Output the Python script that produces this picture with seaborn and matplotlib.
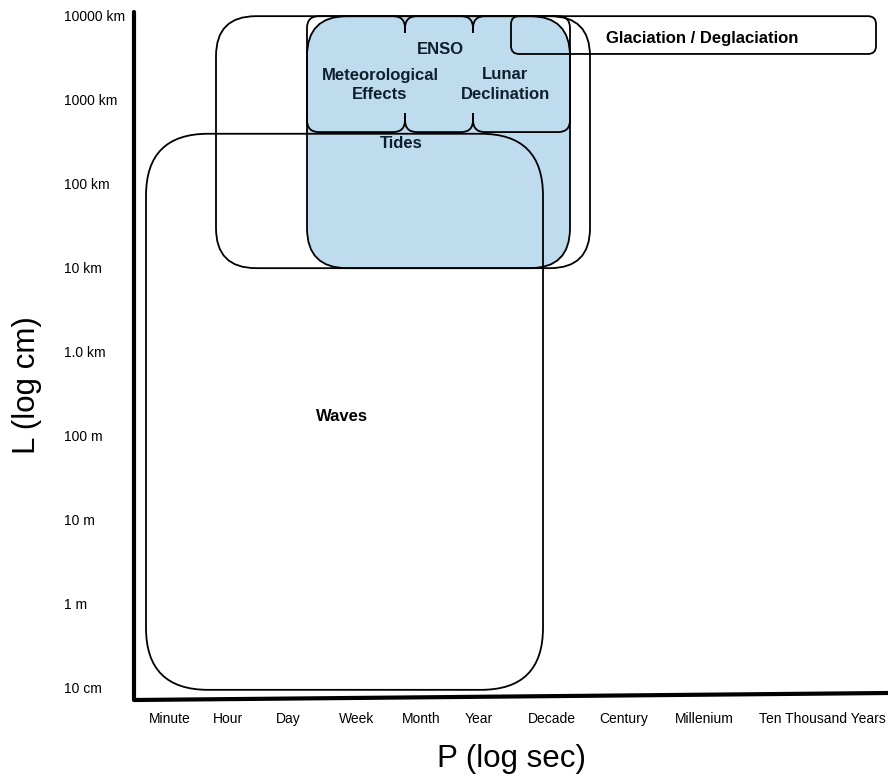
import matplotlib
matplotlib.use("Agg")
import matplotlib.pyplot as plt
from matplotlib.patches import FancyBboxPatch, Rectangle
import seaborn as sns
import pandas as pd

sns.set_theme(style="white")
plt.rcParams['font.family'] = ['Liberation Sans', 'DejaVu Sans']

# ---- axis tick data ----
# y: log10 of length in cm
length_labels = ["10 cm", "1 m", "10 m", "100 m", "1.0 km", "10 km", "100 km", "1000 km", "10000 km"]
length_values = [1, 2, 3, 4, 5, 6, 7, 8, 9]
# x: period scale position (arbitrary linear units)
period_labels = ["Minute", "Hour", "Day", "Week", "Month", "Year", "Decade", "Century",
                 "Millenium", "Ten Thousand Years"]
period_positions = [170, 228, 288, 357, 421, 479, 552, 624, 704, 822]

# ---- phenomena regions (x0, x1 in period units; y0, y1 in log cm) ----
region_names = ["Waves", "Tides", "Shelf", "Meteorological\nEffects", "ENSO",
                "Lunar\nDeclination", "Glaciation / Deglaciation"]
region_x0 = [146, 216, 307, 307, 405, 473, 511]
region_x1 = [543, 590, 570, 405, 473, 570, 876]
region_y0 = [0.99, 6.01, 6.01, 7.63, 7.63, 7.63, 8.56]
region_y1 = [7.61, 9.01, 9.01, 9.01, 9.01, 9.01, 9.01]
region_fill = ["none", "none", "#bfdbee", "none", "none", "none", "none"]
region_round = [62, 40, 40, 12, 12, 12, 8]

# shared borders between the upper small regions (drawn as brace-like joins)
join_x = [405, 473]

# label anchor points for each phenomenon
label_text = ["Waves", "Tides", "ENSO", "Meteorological\nEffects", "Lunar\nDeclination",
              "Glaciation / Deglaciation"]
label_x = [342, 401, 440, 380, 505, 702]
label_y = [4.24, 7.50, 8.61, 8.19, 8.20, 8.74]
label_color = ["black", "#0d1f2d", "#0d1f2d", "#0d1f2d", "#0d1f2d", "black"]

PX_PER_Y = 84.0  # pixel height of one decade of length


def py(p):
    return 1 + (689 - p) / PX_PER_Y


fig = plt.figure(figsize=(8.88, 7.77), dpi=100)
ax = fig.add_axes([0, 0, 1, 1])
ax.set_xlim(0, 888)
ax.set_ylim(py(777), py(0))
ax.axis("off")

order = [2, 1, 0, 3, 4, 5, 6]
for i in order:
    p = FancyBboxPatch((region_x0[i], region_y0[i]),
                       region_x1[i] - region_x0[i], region_y1[i] - region_y0[i],
                       boxstyle=f"round,pad=0,rounding_size={region_round[i]}",
                       mutation_aspect=1 / PX_PER_Y,
                       facecolor=region_fill[i], edgecolor="black", linewidth=1.3,
                       zorder=2 + order.index(i))
    ax.add_patch(p)

# hide the middle of the shared borders so they read as braces
for jx in join_x:
    ax.add_patch(Rectangle((jx - 3, py(113)), 6, py(33) - py(113),
                           facecolor=region_fill[2], edgecolor="none", zorder=12))

for t, x, y, c in zip(label_text, label_x, label_y, label_color):
    ax.text(x, y, t, ha="center", va="center", fontsize=12, fontweight="bold",
            color=c, linespacing=1.4, zorder=20)

# axis lines (drawn with seaborn)
axis_df = pd.DataFrame({"x": [134, 134, 888],
                        "y": [py(12), py(700), py(693)]})
sns.lineplot(data=axis_df, x="x", y="y", sort=False, estimator=None, color="black",
             linewidth=3.0, ax=ax, zorder=30)

for lab, v in zip(length_labels, length_values):
    ax.text(64, v, lab, ha="left", va="center", fontsize=10, color="black")
for lab, xp in zip(period_labels, period_positions):
    ax.text(xp, py(719), lab, ha="center", va="center", fontsize=10, color="black")

ax.text(511, py(759), "P (log sec)", ha="center", va="center",
        fontsize=22.5, color="black")
ax.text(27, py(385), "L (log cm)", ha="center", va="center",
        rotation=90, fontsize=22.5, color="black")

fig.savefig("out.png", dpi=100)
